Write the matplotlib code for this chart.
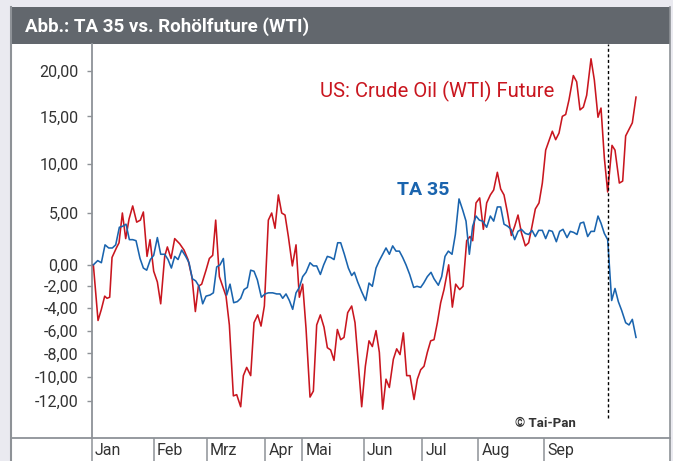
import numpy as np
import matplotlib
matplotlib.use("Agg")
import matplotlib.pyplot as plt
from matplotlib.lines import Line2D
from matplotlib.patches import Rectangle
import matplotlib.transforms as mtransforms

# ---------------- data (trading-day index, % change) ----------------
wti_x = [0.0, 1.4, 2.4, 3.4, 4.1, 4.9, 5.6, 6.9, 7.7, 8.7, 9.7, 10.7, 11.8, 13.0, 14.1, 15.0,
         16.1, 17.0, 18.1, 19.2, 20.2, 21.4, 22.2, 23.3, 24.4, 25.9, 27.2, 28.4, 29.6, 30.6,
         31.5, 32.5, 33.8, 34.8, 35.8, 36.7, 37.8, 38.8, 39.8, 40.8, 42.0, 43.0, 44.2, 45.0,
         46.0, 47.2, 48.2, 49.3, 50.3, 51.3, 52.5, 53.5, 54.5, 55.5, 56.5, 57.5, 58.5, 59.7,
         60.8, 61.8, 62.8, 63.8, 65.0, 66.0, 67.0, 68.1, 69.2, 70.2, 71.2, 72.2, 73.2, 74.2,
         75.2, 76.3, 77.5, 78.5, 79.5, 80.5, 81.6, 82.7, 83.7, 84.8, 85.8, 86.8, 87.8, 88.8,
         90.0, 91.0, 92.0, 93.0, 94.0, 95.0, 96.2, 97.2, 98.2, 99.2, 100.2, 101.2, 102.2,
         103.2, 104.2, 105.2, 106.6, 107.7, 108.7, 109.9, 110.9, 112.0, 113.0, 113.8, 114.8,
         115.9, 117.0, 118.0, 119.1, 120.1, 121.2, 122.2, 123.2, 124.2, 125.4, 126.4, 127.4,
         128.4, 129.6, 130.6, 131.6, 132.6, 133.7, 134.7, 135.7, 136.7, 137.7, 138.7, 139.7,
         140.7, 141.7, 142.7, 144.0, 145.0, 146.0, 147.0, 148.0, 149.3, 150.3, 151.4, 152.3,
         153.3, 154.3, 155.6, 156.5, 157.8, 158.8, 159.7, 160.7, 161.7, 162.8]
wti_v = [0.0, -5.1, -4.1, -2.9, -3.1, -3.0, 0.7, 1.6, 2.1, 5.0, 2.5, 4.4, 5.7, 4.1, 4.3, 5.1,
         0.8, 2.4, -0.6, -1.6, -3.6, 0.8, 1.7, 0.6, 2.5, 2.0, 1.4, 0.5, -1.2, -4.3,
         -2.0, -1.8, -0.5, 0.6, 0.9, 4.3, -1.1, -2.0, -2.9, -5.5, -11.6, -11.5, -12.5, -9.9,
         -9.2, -9.9, -5.3, -4.6, -5.6, -3.8, 4.3, 5.0, 3.5, 6.8, 5.0, 4.8, 2.7, -0.1,
         1.9, -3.0, -1.8, -5.8, -11.7, -11.2, -5.5, -4.6, -5.7, -7.5, -7.7, -8.6, -5.9, -6.8,
         -6.6, -4.4, -3.8, -5.3, -8.9, -12.5, -9.1, -6.9, -7.4, -6.0, -7.9, -12.7, -10.2, -10.9,
         -8.5, -7.6, -8.1, -6.2, -9.9, -9.9, -11.9, -10.2, -9.4, -9.1, -7.9, -6.9, -6.8,
         -5.3, -3.5, -2.3, 0.0, -3.9, -1.8, -2.3, -2.0, 2.3, 2.7, 2.3, 6.0,
         6.5, 3.4, 6.0, 6.8, 7.3, 9.1, 7.4, 6.8, 5.1, 2.8, 3.7, 4.8,
         3.1, 1.8, 2.1, 3.7, 5.4, 6.0, 8.0, 11.4, 12.4, 13.4, 12.5, 13.2,
         15.0, 15.2, 16.8, 19.5, 18.8, 15.7, 16.0, 17.3, 21.4, 19.0, 14.9, 15.9,
         10.6, 7.1, 11.9, 11.4, 8.0, 8.2, 12.9, 13.6, 14.3, 17.1]

ta_x = [0.0, 1.3, 2.4, 3.5, 4.6, 5.7, 6.7, 7.8, 8.8, 9.8, 10.8, 11.8, 12.8, 14.0, 15.0, 16.0,
        17.1, 18.1, 19.2, 20.2, 21.4, 22.4, 23.4, 24.4, 25.4, 26.5, 27.7, 28.7, 29.7, 30.7,
        31.7, 32.8, 33.8, 35.0, 36.0, 37.0, 38.0, 39.0, 40.0, 41.0, 42.1, 43.2, 44.2, 45.2,
        46.2, 47.2, 48.2, 49.2, 50.4, 51.5, 52.5, 53.8, 55.0, 56.0, 56.8, 57.8, 58.8, 59.8,
        60.8, 61.8, 62.8, 63.8, 65.0, 66.0, 67.0, 68.1, 69.1, 70.2, 71.2, 72.2, 73.3, 74.2,
        75.3, 76.5, 77.5, 78.3, 79.3, 80.5, 81.7, 82.7, 83.7, 84.8, 85.8, 86.8, 87.8, 88.8,
        89.8, 90.8, 91.8, 92.8, 93.8, 94.9, 96.1, 97.1, 98.2, 99.1, 100.2, 101.3, 102.2,
        103.5, 104.5, 105.5, 106.5, 107.6, 108.6, 109.7, 110.8, 111.8, 112.8, 113.8, 114.8,
        115.8, 116.8, 118.0, 119.1, 120.1, 121.2, 122.2, 123.2, 124.3, 125.3, 126.4, 127.4,
        128.4, 129.6, 130.6, 131.6, 132.6, 133.6, 134.7, 135.7, 136.7, 137.7, 138.9, 139.9,
        140.9, 142.1, 143.1, 144.1, 145.1, 146.1, 147.1, 148.3, 149.3, 150.3, 151.4, 152.3,
        153.3, 154.3, 155.5, 156.5, 157.5, 158.5, 159.7, 160.7, 161.7, 162.8]
ta_v = [0.0, 0.4, 0.2, 1.9, 1.6, 1.6, 1.9, 3.6, 3.7, 3.9, 2.4, 2.4, 2.3, 0.6, -0.3, -0.5,
        0.5, 0.9, 2.6, 1.0, 1.0, 0.5, -0.3, 0.8, 0.5, 1.4, 0.8, 0.2, -1.3, -1.5,
        -2.0, -3.6, -2.9, -2.8, -2.6, -0.2, 0.0, 0.6, -2.8, -1.8, -3.5, -3.4, -3.1, -2.3,
        -2.1, -0.5, -0.6, -1.4, -3.0, -2.7, -2.6, -2.6, -2.7, -2.7, -3.1, -2.7, -3.3, -4.1,
        -2.6, -2.1, -1.1, -0.7, 0.2, -0.1, -0.1, -0.9, 0.0, 0.8, 0.7, 0.5, 2.1, 2.1,
        1.0, -0.3, -1.0, -0.7, -1.6, -2.5, -3.3, -1.7, -2.0, -0.3, 0.4, 1.0, 1.6, 1.0,
        1.8, 1.3, 1.3, 0.7, 0.0, -0.9, -2.1, -2.0, -2.1, -1.7, -1.1, -0.7, -1.3,
        -1.9, -1.1, 0.8, 1.3, 1.0, 2.9, 6.4, 5.3, 4.2, 1.0, 3.7, 4.7,
        4.3, 4.2, 3.6, 4.7, 4.2, 5.6, 5.6, 3.9, 3.7, 3.4, 2.4, 3.2,
        3.4, 3.0, 2.9, 3.3, 2.7, 3.3, 3.3, 2.5, 3.3, 3.2, 2.2, 3.2,
        3.4, 2.6, 3.2, 3.1, 2.9, 4.0, 4.1, 2.7, 3.2, 3.2, 4.7, 4.0,
        3.0, 2.4, -3.3, -2.2, -3.4, -4.2, -5.3, -5.5, -5.0, -6.6]

month_labels = ["Jan", "Feb", "Mrz", "Apr", "Mai", "Jun", "Jul", "Aug", "Sep"]
month_pos = [-0.5, 18.1, 34.0, 51.6, 62.7, 81.1, 98.7, 115.5, 135.3]
y_ticks = [20, 15, 10, 5, 0, -2, -4, -6, -8, -10, -12]
event_x = 154.4
event_line_bottom = -13.4
title_text = "Abb.: TA 35 vs. Rohölfuture (WTI)"
wti_label = "US: Crude Oil (WTI) Future"
ta_label = "TA 35"
source_text = "© Tai-Pan"

# ---------------- styling ----------------
RED = "#c9161f"
BLUE = "#1a64ae"
GRAY = "#8e9297"
TXT = "#333333"
BG = "#eaeaf0"
BAR = "#62676d"
FONT = ["Roboto", "DejaVu Sans"]

W, H = 673, 461
fig = plt.figure(figsize=(W / 100, H / 100), dpi=100, facecolor=BG)


def fx(px):
    return px / W


def fy(py):
    return 1 - py / H


# white panel and title bar
fig.add_artist(Rectangle((fx(10.7), 0), fx(669.5) - fx(10.7), fy(7), transform=fig.transFigure,
                         facecolor="white", edgecolor="none", zorder=-2))
fig.add_artist(Rectangle((fx(10.7), fy(44)), fx(669.5) - fx(10.7), fy(7) - fy(44),
                         transform=fig.transFigure, facecolor=BAR, edgecolor="none", zorder=-1))
fig.add_artist(Line2D([fx(10.7), fx(10.7)], [0, fy(7)], transform=fig.transFigure,
                      color=GRAY, lw=1.5, zorder=-0.5))
fig.add_artist(Line2D([fx(669.5), fx(669.5)], [0, fy(7)], transform=fig.transFigure,
                      color=GRAY, lw=1.2, zorder=-0.5))
fig.add_artist(Line2D([fx(10.7), fx(669.5)], [fy(438.3), fy(438.3)], transform=fig.transFigure,
                      color=GRAY, lw=1.3, zorder=5))
fig.text(fx(25), fy(26.5), title_text, color="white", fontsize=13.5, fontweight="bold",
         family=FONT, ha="left", va="center")

ax = fig.add_axes([fx(91.7), fy(438.3), fx(669) - fx(91.7), fy(44) - fy(438.3)])
ax.set_facecolor("none")


def fwd(v):
    return np.log1p(np.asarray(v, dtype=float) / 100.0)


def inv(u):
    return 100.0 * np.expm1(np.asarray(u, dtype=float))


ax.set_yscale("function", functions=(fwd, inv))
ytop, ybot = 23.1, -15.06
ax.set_ylim(ybot, ytop)
ax.set_xlim(-0.5, 172.7)

ax.plot(wti_x, wti_v, color=RED, lw=1.15, zorder=3, solid_joinstyle="round")
ax.plot(ta_x, ta_v, color=BLUE, lw=1.15, zorder=3, solid_joinstyle="round")
ax.plot([event_x, event_x], [event_line_bottom, ytop], color="black", lw=1.0,
        ls=(0, (2.2, 1.8)), zorder=4)

for s in ["top", "right", "bottom"]:
    ax.spines[s].set_visible(False)
ax.spines["left"].set_color(GRAY)
ax.spines["left"].set_linewidth(1.3)

ax.set_yticks(y_ticks)
ax.set_yticklabels([f"{v:.2f}".replace(".", ",") for v in y_ticks], family=FONT)
ax.yaxis.set_minor_locator(matplotlib.ticker.NullLocator())
ax.tick_params(axis="y", length=3.5, width=1, color=GRAY, pad=6, labelsize=11.5,
               labelcolor=TXT, direction="out")

ax.set_xticks(month_pos)
ax.set_xticklabels([])
ax.xaxis.set_minor_locator(matplotlib.ticker.NullLocator())
ax.tick_params(axis="x", length=17, width=1.1, color=GRAY, direction="out")

trans = mtransforms.blended_transform_factory(ax.transData, ax.transAxes)
for p, lab in zip(month_pos, month_labels):
    t = mtransforms.offset_copy(trans, fig=fig, x=3, y=-12.5, units="dots")
    ax.text(p, 0, lab, transform=t, ha="left", va="center", fontsize=11.5,
            color=TXT, family=FONT, clip_on=False)

ax.text(68.0, 17.7, wti_label, color=RED, fontsize=14.6, family=FONT, ha="left", va="center")
ax.text(91.1, 7.3, ta_label, color=BLUE, fontsize=14, family=FONT, fontweight="bold",
        ha="left", va="center")

fig.text(fx(515), fy(423), source_text, color=TXT, fontsize=9.5, fontweight="bold",
         family=FONT, ha="left", va="center")

fig.savefig("out.png", dpi=100, facecolor=BG)
